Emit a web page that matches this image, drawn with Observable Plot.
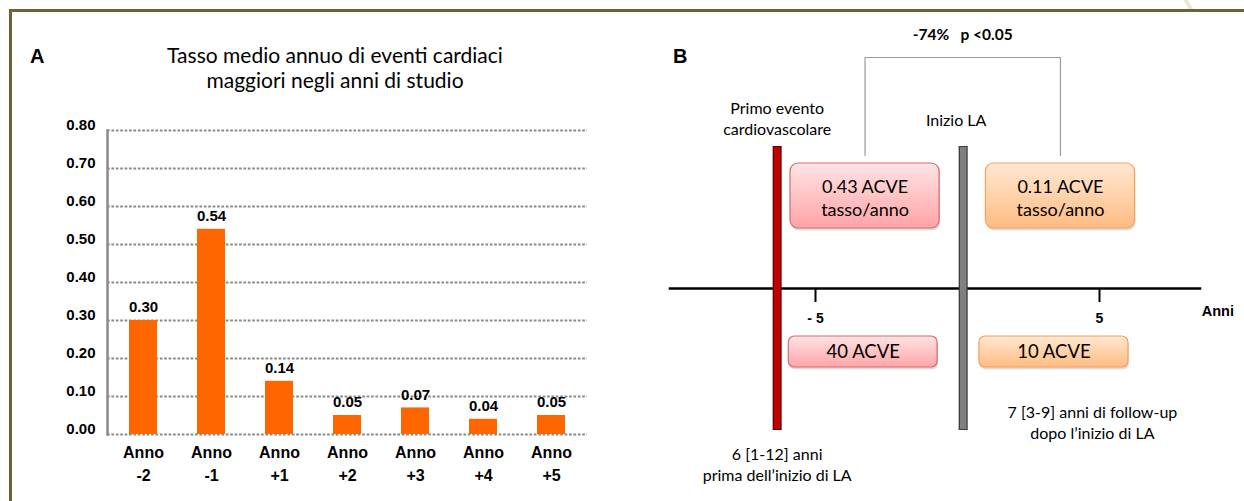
<!DOCTYPE html>
<html>
<head>
<meta charset="utf-8">
<script src="https://cdn.jsdelivr.net/npm/d3@7"></script>
<script src="https://cdn.jsdelivr.net/npm/@observablehq/plot@0.6"></script>
<style>
  html, body { margin: 0; padding: 0; background: #fff; }
  #wrap { position: relative; width: 1244px; height: 501px; overflow: hidden; background: #fff; }
  .bd { position: absolute; background: #6B6535; }
  .panel { position: absolute; top: 0; }
  .htxt { position: absolute; white-space: nowrap; color: #000; }
  .lab { font-family: "Liberation Sans", Arial, sans-serif; font-weight: bold; font-size: 20px; line-height: 20px; }
  .title { font-family: Lato, "Open Sans", sans-serif; font-size: 21px; line-height: 25px; text-align: center; }
  .deco { position: absolute; left: 1186px; top: -3px; width: 4px; height: 14px; background: #ECE8D2; transform: rotate(-30deg); }
</style>
</head>
<body>
<svg width="0" height="0" style="position:absolute">
  <defs>
    <linearGradient id="gPink" x1="0" y1="0" x2="0" y2="1">
      <stop offset="0" stop-color="#FFE4E4"/>
      <stop offset="1" stop-color="#FFA4A8"/>
    </linearGradient>
    <linearGradient id="gOrange" x1="0" y1="0" x2="0" y2="1">
      <stop offset="0" stop-color="#FFE8D2"/>
      <stop offset="1" stop-color="#FFBC82"/>
    </linearGradient>
  </defs>
</svg>
<div id="wrap">
  <div class="deco"></div>
  <div class="bd" style="left:9px;top:9px;width:1235px;height:2.5px"></div>
  <div class="bd" style="left:9px;top:9px;width:2.5px;height:492px"></div>
  <div id="panelA" class="panel" style="left:0px"></div>
  <div id="panelB" class="panel" style="left:620px"></div>
  <div class="htxt lab" style="left:30px;top:46px">A</div>
  <div class="htxt lab" style="left:673px;top:46px">B</div>
  <div class="htxt title" style="left:135px;width:400px;top:42px">Tasso medio annuo di eventi cardiaci<br>maggiori negli anni di studio</div>
</div>
<script>
// ---------- Panel A data ----------
const years = ["-2", "-1", "+1", "+2", "+3", "+4", "+5"];
const rates = [0.30, 0.54, 0.14, 0.05, 0.07, 0.04, 0.05];
const yTicks = [0, 0.1, 0.2, 0.3, 0.4, 0.5, 0.6, 0.7, 0.8];
const yearPrefix = "Anno";

// ---------- Panel B data ----------
const eventNames = ["Primo evento\ncardiovascolare", "Inizio LA"];
const eventYears = [-6.35, 0.2];
const periodNames = ["prima", "dopo"];
const periodStart = [-5.88, 1.0];
const periodEnd = [-0.63, 6.25];
const countStart = [-5.94, 0.77];
const countEnd = [-0.70, 6.02];
const rateLabels = ["0.43 ACVE\ntasso/anno", "0.11 ACVE\ntasso/anno"];
const countLabels = ["40 ACVE", "10 ACVE"];
const durationNotes = ["6 [1-12] anni\nprima dell\u2019inizio di LA", "7 [3-9] anni di follow-up\ndopo l\u2019inizio di LA"];
const durationNoteYears = [-6.35, 4.75];
const timeTicks = [-5, 5];
const timeTickLabels = ["- 5", "5"];
const timelineExtent = [-10.15, 8.6];
const axisTitle = "Anni";
const comparisonLabel = "-74%\u00a0\u00a0\u00a0p <0.05";

const arial = "Liberation Sans, Arial, sans-serif";
const calibri = "Lato, 'Open Sans', sans-serif";

// ---------- Panel A ----------
const dataA = years.map((y, i) => ({year: y, rate: rates[i]}));
const chartA = Plot.plot({
  width: 620,
  height: 501,
  marginLeft: 107,
  marginRight: 33,
  marginTop: 130,
  marginBottom: 67,
  style: {background: "transparent", overflow: "visible", fontFamily: arial},
  x: {domain: years, paddingInner: 0.59, paddingOuter: 0.295, axis: null},
  y: {domain: [0, 0.8], axis: null},
  marks: [
    Plot.ruleY(yTicks, {y: d => d, stroke: "#8a8a8a", strokeWidth: 2, strokeDasharray: "2.7,1.7"}),
    Plot.barY(dataA, {x: "year", y: "rate", fill: "#FF6600"}),
    Plot.frame({anchor: "left", stroke: "#8a8a8a", strokeWidth: 2.5}),
    Plot.text(yTicks, {y: d => d, frameAnchor: "left", dx: -12, dy: -5, text: d => d.toFixed(2),
      textAnchor: "end", fontWeight: "bold", fontSize: 15, fill: "#000", fontFamily: arial}),
    Plot.text(dataA, {x: "year", y: "rate", text: d => d.rate.toFixed(2), dy: -13,
      fontWeight: "bold", fontSize: 15, fill: "#000", fontFamily: arial}),
    Plot.text(dataA, {x: "year", frameAnchor: "bottom", dy: 23, text: () => yearPrefix,
      fontWeight: "bold", fontSize: 16, fill: "#000", fontFamily: arial}),
    Plot.text(dataA, {x: "year", frameAnchor: "bottom", dy: 46, text: "year",
      fontWeight: "bold", fontSize: 16, fill: "#000", fontFamily: arial})
  ]
});
document.getElementById("panelA").appendChild(chartA);

// ---------- Panel B ----------
const events = eventNames.map((n, i) => ({name: n, year: eventYears[i]}));
const periods = periodNames.map((n, i) => ({
  name: n, x1: periodStart[i], x2: periodEnd[i], cx1: countStart[i], cx2: countEnd[i],
  rate: rateLabels[i], count: countLabels[i], mid: (periodStart[i] + periodEnd[i]) / 2
}));
const notes = durationNotes.map((t, i) => ({text: t, year: durationNoteYears[i]}));
const bracket = [
  [periods[0].mid, 155], [periods[0].mid, 57], [periods[1].mid, 57], [periods[1].mid, 155]
];
const compMid = (periods[0].mid + periods[1].mid) / 2;
const fills = ["url(#gPink)", "url(#gOrange)"];
const strokes = ["#D9686C", "#F3A25C"];
const barColors = ["#C00000", "#808080"];
const barEdges = ["#5a0000", "#3a3a3a"];

const chartB = Plot.plot({
  width: 624,
  height: 501,
  marginLeft: 38.8,
  marginRight: 3,
  marginTop: 0,
  marginBottom: 0,
  style: {background: "transparent", overflow: "visible", fontFamily: calibri},
  x: {domain: [-10.5, 10], axis: null},
  y: {domain: [0, 501], range: [0, 501], axis: null},
  marks: [
    // bracket
    Plot.line(bracket, {x: d => d[0], y: d => d[1], stroke: "#9a9a9a", strokeWidth: 1.2}),
    Plot.text([compMid], {x: d => d, y: 35, text: () => comparisonLabel, fontWeight: "bold",
      fontSize: 15.5, fill: "#000", fontFamily: calibri}),
    // event labels
    Plot.text([events[0]], {x: "year", y: 117, text: "name",
      fontSize: 16, lineHeight: 1.3, fill: "#000", fontFamily: calibri}),
    Plot.text([events[1]], {x: "year", y: 120, text: "name", dx: -7,
      fontSize: 16, fill: "#000", fontFamily: calibri}),
    // timeline
    Plot.ruleY([288], {x1: timelineExtent[0], x2: timelineExtent[1], stroke: "#000", strokeWidth: 2.5}),
    Plot.ruleX(timeTicks, {x: d => d, y1: 288, y2: 302, stroke: "#000", strokeWidth: 2}),
    Plot.text(timeTicks, {x: d => d, y: 318, text: (d, i) => timeTickLabels[i], fontWeight: "bold",
      fontSize: 14, fill: "#000", fontFamily: arial}),
    Plot.text([timelineExtent[1]], {x: d => d, y: 311, text: () => axisTitle, textAnchor: "start",
      fontWeight: "bold", fontSize: 14.5, fill: "#000", fontFamily: arial}),
    // event bars
    Plot.ruleX(events, {x: "year", y1: 146, y2: 430, stroke: (d, i) => barEdges[i], strokeWidth: 9}),
    Plot.ruleX(events, {x: "year", y1: 147, y2: 429, stroke: (d, i) => barColors[i], strokeWidth: 6.5}),
    // box shadows
    Plot.rect(periods, {x1: "x1", x2: "x2", y1: 163, y2: 228, rx: 8, fill: "#000", fillOpacity: 0.13, dx: 1, dy: 2.5}),
    Plot.rect(periods, {x1: "cx1", x2: "cx2", y1: 336, y2: 367, rx: 6, fill: "#000", fillOpacity: 0.13, dx: 1, dy: 2.5}),
    // rate boxes
    Plot.rect(periods, {x1: "x1", x2: "x2", y1: 163, y2: 228, rx: 8,
      fill: (d, i) => fills[i], stroke: (d, i) => strokes[i], strokeWidth: 1.2}),
    Plot.text(periods, {x: "mid", y: 196.5, text: "rate", fontSize: 18, lineHeight: 1.28,
      fill: "#000", fontFamily: calibri}),
    // count boxes
    Plot.rect(periods, {x1: "cx1", x2: "cx2", y1: 336, y2: 367, rx: 6,
      fill: (d, i) => fills[i], stroke: (d, i) => strokes[i], strokeWidth: 1.2}),
    Plot.text(periods, {x: d => (d.cx1 + d.cx2) / 2, y: 351.5, text: "count", fontSize: 18.5,
      fill: "#000", fontFamily: calibri}),
    // duration notes
    Plot.text(notes, {x: "year", y: (d, i) => i === 0 ? 463 : 421, text: "text", fontSize: 16,
      lineHeight: 1.3, fill: "#000", fontFamily: calibri})
  ]
});
document.getElementById("panelB").appendChild(chartB);
</script>
</body>
</html>
